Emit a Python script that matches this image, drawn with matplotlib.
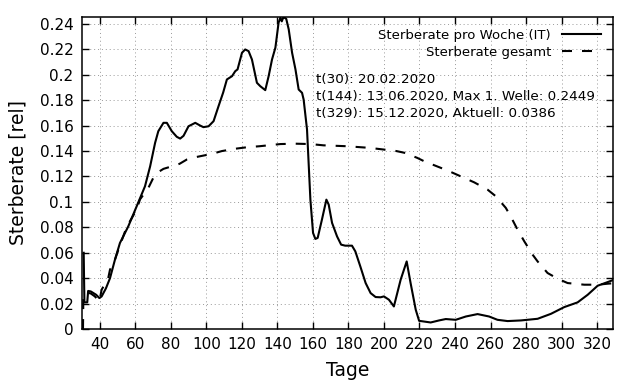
import matplotlib
matplotlib.use("Agg")
from matplotlib import pyplot as plt

# Sterberate pro Woche (IT)
tage_woche = [31, 31.2, 31.4, 33, 33.5, 35, 38, 39.8, 41.1, 43.5, 45.8, 48.6, 51.4, 56.1,
              60.8, 65.5, 68.4, 71.2, 73, 75.9, 77.8, 80.6, 83.4, 85.3, 87.2, 90, 93.8,
              96.6, 98.4, 101.3, 104.1, 106.9, 109.5, 111.6, 114.5, 116.3, 117.6, 120.1,
              121.9, 123.8, 125.7, 128.5, 130.4, 133.2, 135.1, 137, 138.9, 140.7, 141.7,
              142.5, 143.3, 144, 145, 146.4, 148.3, 150.2, 152, 153.9, 154.8, 156.7,
              158.6, 160.1, 161.4, 162.7, 165.1, 167.6, 168.9, 170.8, 173.6, 175.9,
              178.2, 182, 183.9, 186.7, 189.7, 192.5, 195.3, 198.1, 200, 202.8, 205.6,
              209.4, 212.8, 215, 217.9, 219.8, 226.3, 231, 234.8, 240.4, 246.1, 252.7,
              259.2, 263.9, 269.6, 277.1, 286.5, 294, 301.5, 309, 314.7, 320.3, 326, 329]
rate_woche = [0.060, 0.040, 0.021, 0.021, 0.030, 0.0296, 0.027, 0.0244, 0.0257, 0.032,
              0.040, 0.0546, 0.0677, 0.0808, 0.0965, 0.1123, 0.128, 0.1465, 0.1556,
              0.1622, 0.1622, 0.1556, 0.1512, 0.1498, 0.152, 0.1595, 0.1622, 0.160,
              0.1588, 0.1595, 0.1635, 0.1753, 0.186, 0.1963, 0.1989, 0.2028, 0.2042,
              0.2173, 0.2199, 0.2186, 0.212, 0.1937, 0.191, 0.1879, 0.1989, 0.212,
              0.2213, 0.241, 0.2449, 0.242, 0.2449, 0.2449, 0.2440, 0.2357, 0.2173,
              0.2042, 0.1884, 0.1858, 0.1805, 0.157, 0.1018, 0.0756, 0.0709, 0.0717,
              0.0861, 0.1018, 0.0979, 0.0835, 0.0729, 0.0664, 0.0656, 0.0656, 0.0611,
              0.0493, 0.0362, 0.0283, 0.0252, 0.0250, 0.0257, 0.0231, 0.0178, 0.0388,
              0.0532, 0.0362, 0.0152, 0.0065, 0.0052, 0.0068, 0.0079, 0.0073, 0.0099,
              0.0118, 0.0099, 0.0073, 0.0063, 0.0068, 0.0081, 0.012, 0.0173, 0.021,
              0.027, 0.0341, 0.037, 0.0386]

# Sterberate gesamt
tage_gesamt = [30.6, 30.8, 32, 35, 37.3, 39.8, 41.1, 44.8, 45.8, 48.6, 50.5, 54.3, 57, 60.8,
               62.7, 67.4, 70.2, 73, 75.9, 80.6, 85, 89, 94.7, 103.2, 108.8, 117.3,
               122.9, 130, 141.7, 150, 158.6, 166, 179, 192, 207, 212, 218.8, 222.6, 232,
               237.6, 245, 250.8, 258.3, 263, 268.6, 271.5, 275.2, 279, 283.7, 286.5,
               292.1, 297.8, 303.4, 312.8, 320.3, 326, 329]
rate_gesamt = [0.0, 0.025, 0.029, 0.028, 0.0257, 0.0217, 0.031, 0.040, 0.0467, 0.0546,
               0.0624, 0.0769, 0.0847, 0.094, 0.102, 0.111, 0.119, 0.1235, 0.126, 0.128,
               0.130, 0.1333, 0.1354, 0.1378, 0.140, 0.142, 0.143, 0.1438, 0.1455,
               0.1458, 0.1455, 0.1445, 0.1438, 0.1425, 0.140, 0.1385, 0.1346, 0.132,
               0.1268, 0.1236, 0.119, 0.1154, 0.1097, 0.1044, 0.0953, 0.0882, 0.0782,
               0.069, 0.0585, 0.0532, 0.0441, 0.0396, 0.0362, 0.0349, 0.0349, 0.0357,
               0.036]

x_ticks = list(range(40, 321, 20))
y_ticks = [0, 0.02, 0.04, 0.06, 0.08, 0.1, 0.12, 0.14, 0.16, 0.18, 0.2, 0.22, 0.24]
y_labels = ["0", "0.02", "0.04", "0.06", "0.08", "0.1", "0.12", "0.14", "0.16",
            "0.18", "0.2", "0.22", "0.24"]
info = ["t(30): 20.02.2020",
        "t(144): 13.06.2020, Max 1. Welle: 0.2449",
        "t(329): 15.12.2020, Aktuell: 0.0386"]

fig = plt.figure(figsize=(6.4, 3.84), dpi=100)
ax = fig.add_axes([0.128, 0.143, 0.83, 0.813])

ax.plot(tage_woche, rate_woche, color="black", lw=1.5, label="Sterberate pro Woche (IT)")
ax.plot(tage_gesamt, rate_gesamt, color="black", lw=1.5, dashes=(4.8, 4.8),
        label="Sterberate gesamt")

ax.set_xlim(30, 329)
ax.set_ylim(0, 0.2455)
ax.set_xticks(x_ticks)
ax.set_yticks(y_ticks)
ax.set_yticklabels(y_labels)
ax.tick_params(direction="in", length=5, width=1, top=True, right=True,
               labelsize=11, pad=6)
ax.grid(True, color="#999999", lw=0.7, linestyle=(0, (1, 3)))
for s in ax.spines.values():
    s.set_linewidth(1.1)

ax.set_xlabel("Tage", fontsize=13.5, labelpad=6)
ax.set_ylabel("Sterberate [rel]", fontsize=13.5, labelpad=9)

ax.legend(loc="upper right", frameon=False, markerfirst=False, fontsize=9.5,
          handlelength=3, borderaxespad=0.5, labelspacing=0.3)

for i, t in enumerate(info):
    ax.text(162, 0.1963 - i * 0.0134, t, fontsize=9.7, va="center", ha="left")

fig.savefig("out.png", dpi=100)
